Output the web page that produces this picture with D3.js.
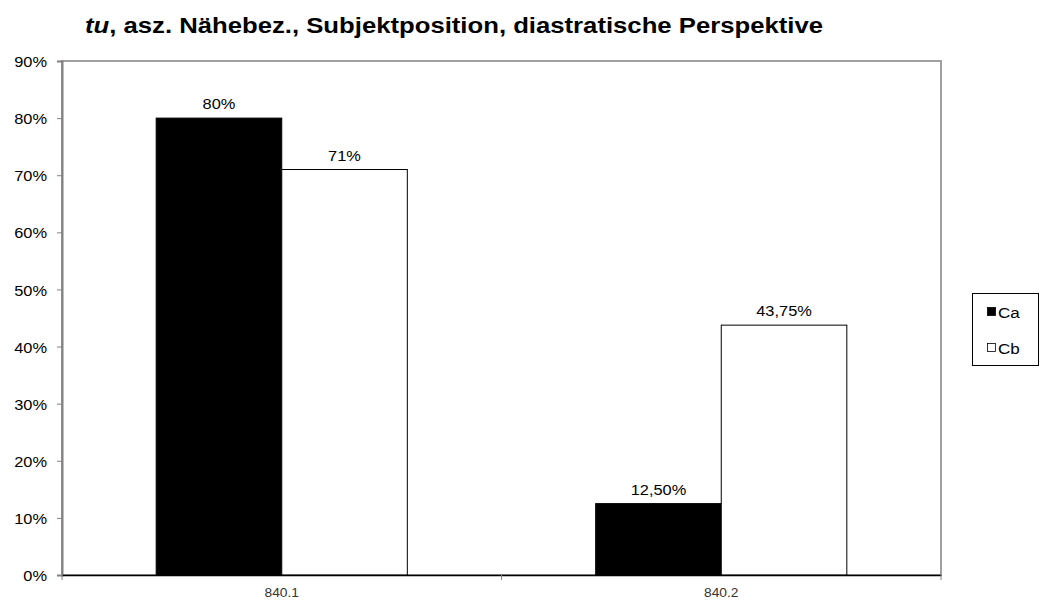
<!DOCTYPE html>
<html><head><meta charset="utf-8">
<script src="https://cdn.jsdelivr.net/npm/d3@7"></script>
<style>body{margin:0;background:#fff}svg{display:block}text{font-family:"Liberation Sans",Arial,sans-serif}</style>
</head><body><svg id="c" width="1042" height="604"></svg>
<script>
const categories = ["840.1", "840.2"];
const seriesNames = ["Ca", "Cb"];
const valuesCa = [80, 12.5];
const valuesCb = [71, 43.75];
const labelsCa = ["80%", "12,50%"];
const labelsCb = ["71%", "43,75%"];
const yTicks = [0, 10, 20, 30, 40, 50, 60, 70, 80, 90];

const K = 1.17; // horizontal stretch of the reference text
function stretch(sel, k) {
  sel.each(function () {
    const w = this.getComputedTextLength();
    d3.select(this).attr("textLength", w * k).attr("lengthAdjust", "spacingAndGlyphs");
  });
}

const svg = d3.select("#c");
const m = {l: 62, r: 941, t: 61, b: 575};
const x0 = d3.scaleBand().domain(categories).range([m.l, m.r]).paddingInner(0).paddingOuter(0);
const x1 = d3.scaleBand().domain(seriesNames).range([0, x0.bandwidth()]).paddingInner(0).paddingOuter(0.75);
const y = d3.scaleLinear().domain([0, 90]).range([m.b, m.t]);

// plot frame
svg.append("rect").attr("x", m.l).attr("y", m.t).attr("width", m.r - m.l).attr("height", m.b - m.t)
  .attr("fill", "#fff").attr("stroke", "#a0a0a0").attr("stroke-width", 2);

// y axis
const ya = svg.append("g").attr("transform", `translate(${m.l},0)`)
  .call(d3.axisLeft(y).tickValues(yTicks).tickSize(5).tickPadding(10).tickFormat(d => d + "%"));
ya.select(".domain").attr("stroke", "#808080").attr("stroke-width", 2);
ya.selectAll(".tick line").attr("stroke", "#808080");
ya.selectAll(".tick text").attr("font-size", 14).attr("fill", "#000").attr("dy", "0.4em").call(stretch, K);

const data = categories.map((c, i) => ({cat: c, vals: [
  {s: "Ca", v: valuesCa[i], lab: labelsCa[i]},
  {s: "Cb", v: valuesCb[i], lab: labelsCb[i]}]}));

const fills = {Ca: "#000", Cb: "#fff"};
const g = svg.append("g").selectAll("g").data(data).join("g")
  .attr("transform", d => `translate(${x0(d.cat)},0)`);
g.selectAll("rect").data(d => d.vals).join("rect")
  .attr("x", d => x1(d.s)).attr("width", x1.bandwidth())
  .attr("y", d => y(d.v)).attr("height", d => y(0) - y(d.v))
  .attr("fill", d => fills[d.s]).attr("stroke", "#000").attr("stroke-width", 1);
g.selectAll("text").data(d => d.vals).join("text")
  .attr("x", d => x1(d.s) + x1.bandwidth() / 2).attr("y", d => y(d.v) - 9)
  .attr("text-anchor", "middle").attr("font-size", 14).attr("fill", "#000").text(d => d.lab)
  .call(stretch, K);

// x axis
const xa = svg.append("g").attr("transform", `translate(0,${m.b})`)
  .call(d3.axisBottom(x0).tickSize(0).tickPadding(13));
xa.select(".domain").attr("stroke", "#000").attr("stroke-width", 1.5);
xa.selectAll(".tick text").attr("font-size", 12.5).attr("fill", "#333").call(stretch, 1.1);
// category separators
svg.append("g").selectAll("line").data([m.l, x0(categories[1]), m.r]).join("line")
  .attr("x1", d => d).attr("x2", d => d).attr("y1", m.b).attr("y2", m.b + 5).attr("stroke", "#808080");

// title
const t = svg.append("text").attr("x", 85).attr("y", 33).attr("font-size", 22).attr("font-weight", "bold");
t.append("tspan").attr("font-style", "italic").text("tu");
t.append("tspan").text(", asz. Nähebez., Subjektposition, diastratische Perspektive");
t.attr("textLength", 738).attr("lengthAdjust", "spacingAndGlyphs");

// legend
const lg = svg.append("g");
lg.append("rect").attr("x", 972.5).attr("y", 293.5).attr("width", 66).attr("height", 72)
  .attr("fill", "#fff").attr("stroke", "#000");
const li = lg.selectAll("g").data(seriesNames).join("g")
  .attr("transform", (d, i) => `translate(987,${318 + i * 36})`);
li.append("rect").attr("x", 0.5).attr("y", -10.5).attr("width", 8).attr("height", 8)
  .attr("fill", d => fills[d]).attr("stroke", "#000").attr("stroke-width", 0.8);
li.append("text").attr("x", 11).attr("y", 0).attr("font-size", 15.5).text(d => d).call(stretch, 1.1);
</script></body></html>
